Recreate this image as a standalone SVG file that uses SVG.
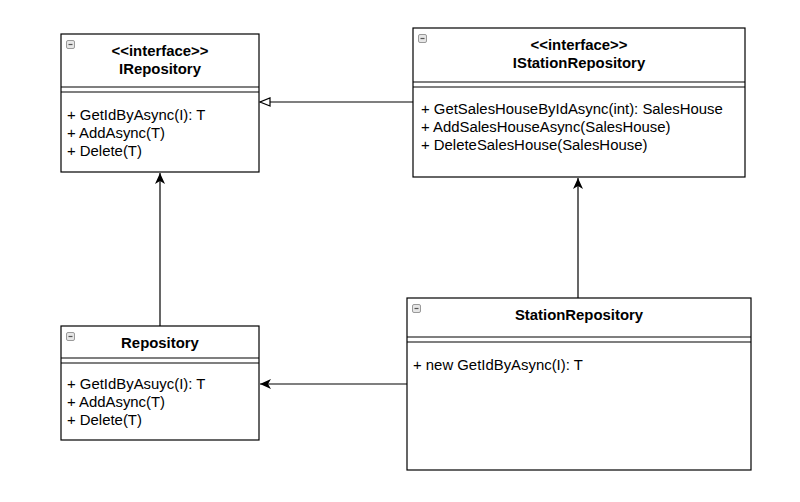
<svg xmlns="http://www.w3.org/2000/svg" width="800" height="502" viewBox="0 0 800 502">
<defs>
<style>
.box{fill:#fff;stroke:#000;stroke-width:1.2}
.sep{stroke:#000;stroke-width:1.2;fill:none}
.t{font-family:"Liberation Sans",Arial,Helvetica,sans-serif;font-size:14.9px;fill:#000}
.b{font-weight:bold;text-anchor:middle}
.edge{stroke:#000;stroke-width:1.2;fill:none}
.ico{fill:#e6e6e6;stroke:#9a9a9a;stroke-width:1}
.icm{stroke:#555;stroke-width:1.2}
</style>
<marker id="tri" viewBox="0 0 12 10" refX="11" refY="5" markerWidth="12" markerHeight="10" markerUnits="userSpaceOnUse" orient="auto">
<path d="M1,1 L11,5 L1,9 z" fill="#fff" stroke="#000" stroke-width="1.2"/>
</marker>
<marker id="cls" viewBox="0 0 11 10" refX="11" refY="5" markerWidth="11" markerHeight="10" markerUnits="userSpaceOnUse" orient="auto">
<path d="M0,0 L11,5 L0,10 L3,5 z" fill="#000"/>
</marker>
</defs>
<rect width="800" height="502" fill="#fff"/>
<g id="connectors">
<line class="edge" x1="413" y1="102" x2="260" y2="102" marker-end="url(#tri)"/>
<line class="edge" x1="160" y1="326" x2="160" y2="173" marker-end="url(#cls)"/>
<line class="edge" x1="578" y1="298" x2="578" y2="178" marker-end="url(#cls)"/>
<line class="edge" x1="407" y1="384" x2="260" y2="384" marker-end="url(#cls)"/>
</g>
<g id="IRepository">
<rect class="box" x="61" y="34" width="198" height="138"/>
<line class="sep" x1="61" y1="87" x2="259" y2="87"/>
<line class="sep" x1="61" y1="92" x2="259" y2="92"/>
<rect class="ico" x="66.5" y="40.5" width="8" height="8" rx="1.5"/>
<line class="icm" x1="68.5" y1="44.5" x2="72.5" y2="44.5"/>
<text class="t b" x="160" y="56">&lt;&lt;interface&gt;&gt;</text>
<text class="t b" x="160" y="74">IRepository</text>
<text class="t" x="67" y="120">+ GetIdByAsync(I): T</text>
<text class="t" x="67" y="138">+ AddAsync(T)</text>
<text class="t" x="67" y="156">+ Delete(T)</text>
</g>
<g id="IStationRepository">
<rect class="box" x="413" y="28" width="332" height="149"/>
<line class="sep" x1="413" y1="82" x2="745" y2="82"/>
<line class="sep" x1="413" y1="87" x2="745" y2="87"/>
<rect class="ico" x="418.5" y="34.5" width="8" height="8" rx="1.5"/>
<line class="icm" x1="420.5" y1="38.5" x2="424.5" y2="38.5"/>
<text class="t b" x="579" y="50">&lt;&lt;interface&gt;&gt;</text>
<text class="t b" x="579" y="68">IStationRepository</text>
<text class="t" x="421" y="114">+ GetSalesHouseByIdAsync(int): SalesHouse</text>
<text class="t" x="421" y="132">+ AddSalesHouseAsync(SalesHouse)</text>
<text class="t" x="421" y="150">+ DeleteSalesHouse(SalesHouse)</text>
</g>
<g id="Repository">
<rect class="box" x="61" y="326" width="198" height="114"/>
<line class="sep" x1="61" y1="358" x2="259" y2="358"/>
<line class="sep" x1="61" y1="363" x2="259" y2="363"/>
<rect class="ico" x="66.5" y="332.5" width="8" height="8" rx="1.5"/>
<line class="icm" x1="68.5" y1="336.5" x2="72.5" y2="336.5"/>
<text class="t b" x="160" y="348">Repository</text>
<text class="t" x="67" y="389">+ GetIdByAsuyc(I): T</text>
<text class="t" x="67" y="407">+ AddAsync(T)</text>
<text class="t" x="67" y="425">+ Delete(T)</text>
</g>
<g id="StationRepository">
<rect class="box" x="407" y="298" width="344" height="172"/>
<line class="sep" x1="407" y1="337" x2="751" y2="337"/>
<line class="sep" x1="407" y1="342" x2="751" y2="342"/>
<rect class="ico" x="412.5" y="304.5" width="8" height="8" rx="1.5"/>
<line class="icm" x1="414.5" y1="308.5" x2="418.5" y2="308.5"/>
<text class="t b" x="579" y="320">StationRepository</text>
<text class="t" x="413" y="370">+ new GetIdByAsync(I): T</text>
</g>
</svg>
